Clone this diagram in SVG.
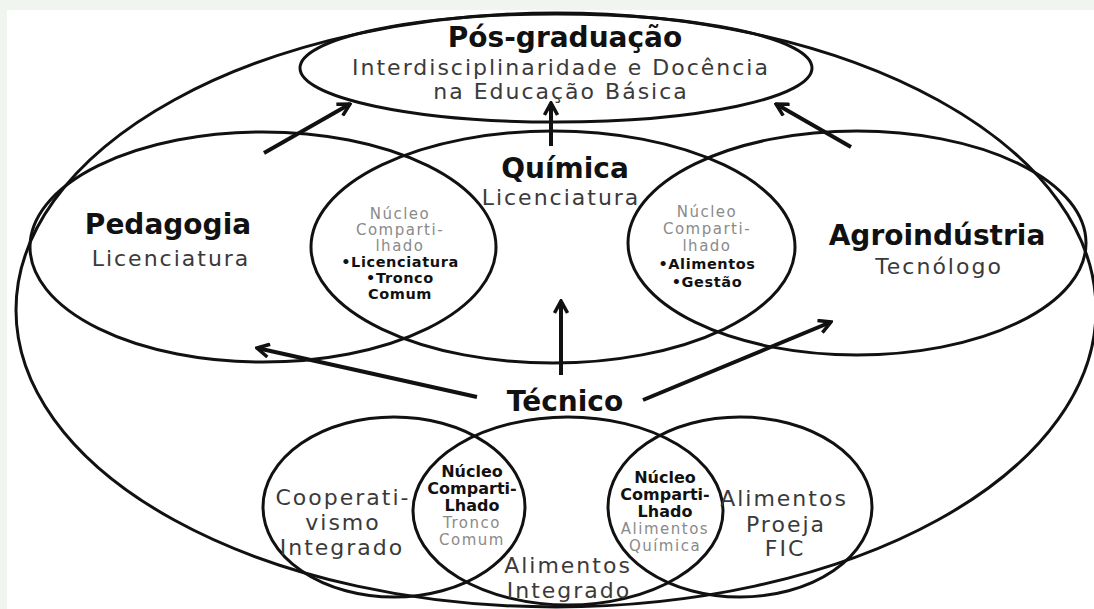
<svg xmlns="http://www.w3.org/2000/svg" width="1094" height="609" viewBox="0 0 1094 609">
<defs>
<style>
.shape{fill:none;stroke:#111;stroke-width:3}
.arrow{fill:none;stroke:#111;stroke-width:4;stroke-linecap:butt}
.title{font-family:"DejaVu Sans",Verdana,sans-serif;font-weight:bold;font-size:28px;fill:#111;text-anchor:middle}
.sub{font-family:"DejaVu Sans",Verdana,sans-serif;font-size:22px;letter-spacing:2px;fill:#3a3a3a;text-anchor:middle}
.lg{font-family:"DejaVu Sans",Verdana,sans-serif;font-size:15px;letter-spacing:1.5px;fill:#8a8a8a;text-anchor:middle}
.lb{font-family:"DejaVu Sans",Verdana,sans-serif;font-weight:bold;font-size:14.5px;letter-spacing:0.6px;fill:#111;text-anchor:middle}
.lb2{font-family:"DejaVu Sans",Verdana,sans-serif;font-weight:bold;font-size:16px;fill:#111;text-anchor:middle}
</style>
<marker id="head" viewBox="0 0 16 16" refX="14" refY="8" markerWidth="16" markerHeight="16" markerUnits="userSpaceOnUse" orient="auto">
<path d="M2,1.5 L14,8 L2,14.5" fill="none" stroke="#111" stroke-width="3.5"/>
</marker>
</defs>
<rect x="0" y="0" width="1094" height="609" fill="#f1f5f0"/>
<rect x="7" y="10" width="1087" height="599" fill="#ffffff"/>

<g id="outer"><ellipse class="shape" cx="556" cy="310" rx="540" ry="297"/></g>

<g id="pos-graduacao">
<ellipse class="shape" cx="556" cy="68" rx="256" ry="54"/>
<text class="title" x="565" y="47">Pós-graduação</text>
<text class="sub" x="561" y="75">Interdisciplinaridade e Docência</text>
<text class="sub" x="561" y="99">na Educação Básica</text>
</g>

<g id="pedagogia">
<ellipse class="shape" cx="263" cy="247" rx="233" ry="115"/>
<text class="title" x="168" y="234">Pedagogia</text>
<text class="sub" x="171" y="266">Licenciatura</text>
</g>

<g id="quimica">
<ellipse class="shape" cx="553" cy="247" rx="242" ry="116"/>
<text class="title" x="565" y="178">Química</text>
<text class="sub" x="561" y="205">Licenciatura</text>
</g>

<g id="agroindustria">
<ellipse class="shape" cx="857" cy="243" rx="229" ry="112"/>
<text class="title" x="937" y="245">Agroindústria</text>
<text class="sub" x="939" y="274">Tecnólogo</text>
</g>

<g id="nucleo-ped-qui">
<text class="lg" x="400" y="219">Núcleo</text>
<text class="lg" x="400" y="235">Comparti-</text>
<text class="lg" x="400" y="251">lhado</text>
<text class="lb" x="400" y="267">•Licenciatura</text>
<text class="lb" x="400" y="283">•Tronco</text>
<text class="lb" x="400" y="299">Comum</text>
</g>

<g id="nucleo-qui-agro">
<text class="lg" x="707" y="217">Núcleo</text>
<text class="lg" x="707" y="234">Comparti-</text>
<text class="lg" x="707" y="251">lhado</text>
<text class="lb" x="707" y="269">•Alimentos</text>
<text class="lb" x="707" y="287">•Gestão</text>
</g>

<g id="tecnico">
<text class="title" x="565" y="411">Técnico</text>
</g>

<g id="cooperativismo">
<ellipse class="shape" cx="394" cy="507" rx="131" ry="90"/>
<text class="sub" x="343" y="505">Cooperati-</text>
<text class="sub" x="343" y="530">vismo</text>
<text class="sub" x="342" y="555">Integrado</text>
</g>

<g id="alimentos-integrado">
<ellipse class="shape" cx="568" cy="511" rx="155" ry="94"/>
<text class="sub" x="568" y="573">Alimentos</text>
<text class="sub" x="569" y="598">Integrado</text>
</g>

<g id="alimentos-proeja">
<ellipse class="shape" cx="740" cy="507" rx="132" ry="90"/>
<text class="sub" x="784" y="506">Alimentos</text>
<text class="sub" x="786" y="532">Proeja</text>
<text class="sub" x="785" y="556">FIC</text>
</g>

<g id="nucleo-coop-alim">
<text class="lb2" x="472" y="477">Núcleo</text>
<text class="lb2" x="472" y="494">Comparti-</text>
<text class="lb2" x="472" y="511">Lhado</text>
<text class="lg" x="472" y="528">Tronco</text>
<text class="lg" x="472" y="545">Comum</text>
</g>

<g id="nucleo-alim-proeja">
<text class="lb2" x="665" y="483">Núcleo</text>
<text class="lb2" x="665" y="500">Comparti-</text>
<text class="lb2" x="665" y="517">Lhado</text>
<text class="lg" x="665" y="534">Alimentos</text>
<text class="lg" x="665" y="551">Química</text>
</g>

<g id="connectors">
<line class="arrow" x1="264" y1="153" x2="350" y2="104" marker-end="url(#head)"/>
<line class="arrow" x1="551" y1="146" x2="551" y2="103" marker-end="url(#head)"/>
<line class="arrow" x1="851" y1="147" x2="776" y2="104" marker-end="url(#head)"/>
<line class="arrow" x1="561" y1="375" x2="561" y2="301" marker-end="url(#head)"/>
<line class="arrow" x1="477" y1="397" x2="257" y2="348" marker-end="url(#head)"/>
<line class="arrow" x1="643" y1="400" x2="831" y2="322" marker-end="url(#head)"/>
</g>
</svg>
